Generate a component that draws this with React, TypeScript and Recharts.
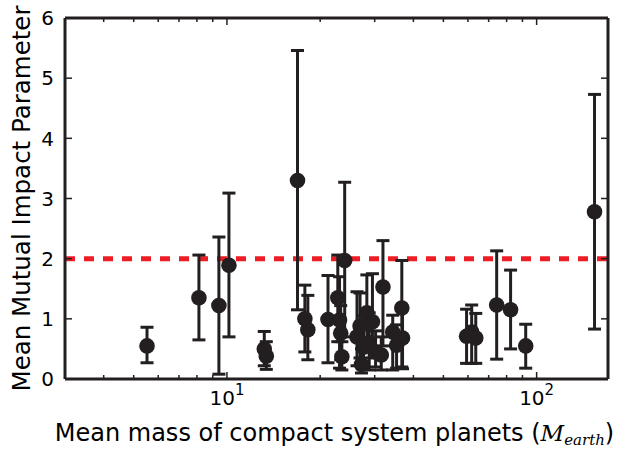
import { ErrorBar, ReferenceLine, Scatter, ScatterChart, XAxis, YAxis } from "recharts";

// mean planet mass (M_earth) per compact system
const mass = [
  5.52, 8.12, 9.42, 10.15, 13.2, 13.4, 16.9, 17.85, 18.25, 21.2, 22.8, 23.1, 23.3, 23.5, 24.0, 26.3, 26.9, 27.2,
  27.6, 28.3, 28.8, 29.5, 30.2, 31.5, 31.9, 34.3, 35.3, 36.7, 36.9, 59.4, 61.7, 63.6, 74.3, 82.4, 92.2, 153.8,
];
// mean mutual impact parameter
const impact = [
  0.55, 1.35, 1.22, 1.89, 0.5, 0.38, 3.3, 1.0, 0.82, 0.99, 1.35, 0.98, 0.76, 0.37, 1.97, 0.7, 0.88, 0.24, 0.53, 1.1,
  0.6, 0.95, 0.45, 0.4, 1.53, 0.78, 0.56, 1.18, 0.68, 0.71, 0.78, 0.68, 1.23, 1.15, 0.55, 2.78,
];
const lowerBound = [
  0.27, 0.65, 0.08, 0.7, 0.22, 0.16, 1.15, 0.45, 0.32, 0.27, 0.62, 0.18, 0.32, 0.15, 0.7, 0.22, 0.35, 0.1, 0.18, 0.45,
  0.15, 0.35, 0.2, 0.15, 0.55, 0.15, 0.18, 0.2, 0.17, 0.26, 0.26, 0.26, 0.33, 0.5, 0.18, 0.83,
];
const upperBound = [
  0.86, 2.06, 2.36, 3.09, 0.79, 0.62, 5.46, 1.56, 1.39, 1.72, 2.06, 1.7, 1.22, 0.62, 3.27, 1.45, 1.43, 0.5, 1.05, 1.73,
  1.1, 1.75, 0.8, 0.7, 2.3, 1.06, 0.9, 1.97, 1.2, 1.16, 1.23, 1.09, 2.13, 1.81, 0.91, 4.73,
];

const xDomain = [3, 170];
const yDomain = [0, 6];
const xTicks = [4, 5, 6, 7, 8, 9, 10, 20, 30, 40, 50, 60, 70, 80, 90, 100];
const xMajor: Record<number, string> = { 10: "1", 100: "2" };
const yTicks = [0, 1, 2, 3, 4, 5, 6];
const threshold = 2;

const INK = "#231f20";
const FONT = "DejaVu Sans";

const points = mass.map((m, i) => ({
  mass: m,
  impact: impact[i],
  err: [impact[i] - lowerBound[i], upperBound[i] - impact[i]],
}));

const BottomTick = (props: any) => {
  const { x, y, payload } = props;
  const exp = xMajor[payload.value];
  const len = exp ? 7 : 4;
  return (
    <g>
      <line x1={x} x2={x} y1={y} y2={y - len} stroke={INK} strokeWidth={1.5} />
      {exp && (
        <text x={x} y={y + 26} textAnchor="middle" fontFamily={FONT} fontSize={20} fill="#000">
          10
          <tspan dy={-10} fontSize={15}>
            {exp}
          </tspan>
        </text>
      )}
    </g>
  );
};

const TopTick = (props: any) => {
  const { x, y, payload } = props;
  const len = xMajor[payload.value] ? 7 : 4;
  return <line x1={x} x2={x} y1={y} y2={y + len} stroke={INK} strokeWidth={1.5} />;
};

const LeftTick = (props: any) => {
  const { x, y, payload } = props;
  return (
    <g>
      <line x1={x} x2={x + 7} y1={y} y2={y} stroke={INK} strokeWidth={1.5} />
      <text x={x - 11} y={y} dy="0.36em" textAnchor="end" fontFamily={FONT} fontSize={20} fill="#000">
        {payload.value}
      </text>
    </g>
  );
};

const RightTick = (props: any) => {
  const { x, y } = props;
  return <line x1={x} x2={x - 7} y1={y} y2={y} stroke={INK} strokeWidth={1.5} />;
};

const XTitle = (props: any) => {
  const { viewBox } = props;
  const cx = viewBox.x + viewBox.width / 2 - 2;
  return (
    <text x={cx} y={viewBox.y + 62} textAnchor="middle" fontFamily={FONT} fontSize={24} fill="#000">
      Mean mass of compact system planets (
      <tspan fontFamily="DejaVu Serif" fontStyle="italic" fontSize={23}>
        M
      </tspan>
      <tspan fontFamily="DejaVu Serif" fontStyle="italic" fontSize={15} dy={4}>
        earth
      </tspan>
      <tspan dy={-4}>)</tspan>
    </text>
  );
};

const YTitle = (props: any) => {
  const { viewBox } = props;
  const cy = viewBox.y + viewBox.height / 2;
  const x = 30;
  return (
    <text
      x={x}
      y={cy}
      transform={`rotate(-90 ${x} ${cy})`}
      textAnchor="middle"
      fontFamily={FONT}
      fontSize={24.5}
      fill="#000"
    >
      Mean Mutual Impact Parameter
    </text>
  );
};

const Dot = (props: any) => <circle cx={props.cx} cy={props.cy} r={7.8} fill={INK} />;

export default function App() {
  return (
    <div style={{ position: "absolute", left: 0, top: 0, background: "#fff" }}>
      <ScatterChart width={618} height={449} margin={{ top: 0, right: 0, bottom: 0, left: 0 }}>
        <XAxis
          dataKey="mass"
          type="number"
          scale="log"
          domain={xDomain}
          ticks={xTicks}
          allowDataOverflow
          height={70}
          tickSize={0}
          tickMargin={0}
          tickLine={false}
          tick={BottomTick}
          interval={0}
          axisLine={{ stroke: INK, strokeWidth: 3 }}
          label={{ content: XTitle }}
        />
        <XAxis
          xAxisId="top"
          orientation="top"
          dataKey="mass"
          type="number"
          scale="log"
          domain={xDomain}
          ticks={xTicks}
          allowDataOverflow
          height={18}
          tickSize={0}
          tickMargin={0}
          tickLine={false}
          tick={TopTick}
          interval={0}
          axisLine={{ stroke: INK, strokeWidth: 3 }}
        />
        <YAxis
          dataKey="impact"
          type="number"
          domain={yDomain}
          ticks={yTicks}
          allowDataOverflow
          width={65}
          tickSize={0}
          tickMargin={0}
          tickLine={false}
          tick={LeftTick}
          interval={0}
          axisLine={{ stroke: INK, strokeWidth: 3 }}
          label={{ content: YTitle }}
        />
        <YAxis
          yAxisId="right"
          orientation="right"
          dataKey="impact"
          type="number"
          domain={yDomain}
          ticks={yTicks}
          allowDataOverflow
          width={10}
          tickSize={0}
          tickMargin={0}
          tickLine={false}
          tick={RightTick}
          interval={0}
          axisLine={{ stroke: INK, strokeWidth: 3 }}
        />
        <ReferenceLine y={threshold} stroke="#ee1d24" strokeWidth={5} strokeDasharray="10 9" />
        <Scatter
          data={points}
          xAxisId="top"
          yAxisId="right"
          shape={() => <g />}
          isAnimationActive={false}
          legendType="none"
        />
        <Scatter data={points} fill={INK} shape={Dot} isAnimationActive={false}>
          <ErrorBar dataKey="err" direction="y" width={6.5} stroke={INK} strokeWidth={3} />
        </Scatter>
      </ScatterChart>
    </div>
  );
}
